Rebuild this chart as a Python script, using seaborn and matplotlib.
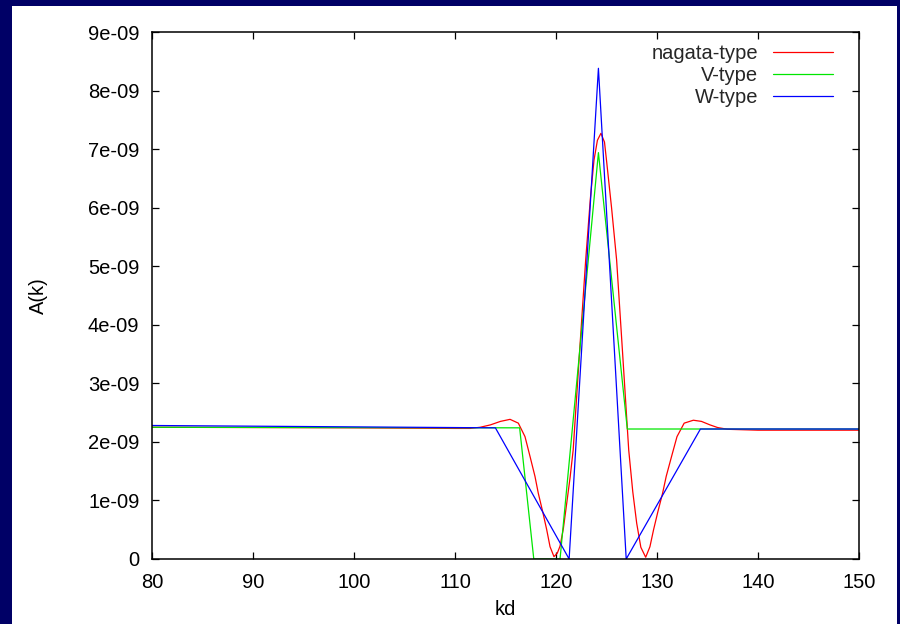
import matplotlib
matplotlib.use("Agg")
import matplotlib.pyplot as plt
import seaborn as sns
import pandas as pd
from matplotlib.patches import Rectangle
from matplotlib.lines import Line2D

# ---- data (units of 1e-9 for A(k)) ----
series_names = ["nagata-type", "V-type", "W-type"]

nagata_x = [80, 100, 110, 111.5, 112.5, 113.5, 114.5, 115.45, 116.27, 116.93, 117.43,
            117.92, 118.25, 118.68, 119.08, 119.41, 119.8, 120.13, 120.4, 120.73,
            121.06, 121.4, 121.7, 122.3, 122.94, 123.4, 123.76, 124.1, 124.45,
            124.8, 125.0, 125.5, 126.0, 126.6, 127.2, 127.6, 127.99, 128.4, 128.88,
            129.3, 129.66, 130.09, 130.55, 130.91, 131.44, 131.98, 132.69, 133.6,
            134.4, 135.25, 136.0, 137.0, 140.0, 150.0]
nagata_y = [2.25, 2.24, 2.23, 2.23, 2.25, 2.29, 2.35, 2.385, 2.32, 2.09, 1.75,
            1.41, 1.12, 0.81, 0.50, 0.21, 0.04, 0.10, 0.22, 0.52,
            0.95, 1.40, 1.86, 3.45, 5.11, 6.15, 6.81, 7.15, 7.27,
            7.12, 6.81, 6.0, 5.11, 3.5, 1.86, 1.15, 0.61, 0.20, 0.03,
            0.21, 0.50, 0.81, 1.12, 1.41, 1.75, 2.09, 2.32, 2.37,
            2.35, 2.29, 2.245, 2.215, 2.20, 2.20]

vtype_x = [80, 116.4, 117.8, 120.4, 124.2, 127.06, 150]
vtype_y = [2.25, 2.24, 0.0, 0.0, 6.94, 2.22, 2.22]

wtype_x = [80, 114.0, 121.3, 124.2, 126.95, 134.3, 150]
wtype_y = [2.28, 2.24, 0.0, 8.38, 0.0, 2.22, 2.22]

xticks = [80, 90, 100, 110, 120, 130, 140, 150]
yticks = [0, 1, 2, 3, 4, 5, 6, 7, 8, 9]
ytick_labels = ["0", "1e-09", "2e-09", "3e-09", "4e-09", "5e-09",
                "6e-09", "7e-09", "8e-09", "9e-09"]
colors = ["#ff0000", "#00e600", "#0000ff"]

frames = []
for name, xs, ys in zip(series_names, [nagata_x, vtype_x, wtype_x],
                        [nagata_y, vtype_y, wtype_y]):
    frames.append(pd.DataFrame({"kd": xs, "A": [v * 1e-9 for v in ys], "series": name}))
df = pd.concat(frames, ignore_index=True)

# ---- style ----
sns.set_theme(style="white")
plt.rcParams["font.family"] = ["Liberation Sans", "DejaVu Sans"]
plt.rcParams["axes.linewidth"] = 1.1

fig = plt.figure(figsize=(9, 6.24), dpi=100)
fig.patch.set_facecolor("#000066")
fig.add_artist(Rectangle((12 / 900, 0), (897 - 12) / 900, 1 - 6 / 624,
                         transform=fig.transFigure, facecolor="white",
                         edgecolor="none", zorder=-10))

ax = fig.add_axes([152 / 900, 1 - 559 / 624, (859 - 152) / 900, (559 - 32) / 624])
ax.set_facecolor("white")

sns.lineplot(data=df, x="kd", y="A", hue="series", hue_order=series_names,
             palette=colors, linewidth=0.9, errorbar=None, sort=True,
             estimator=None, ax=ax, legend=False)

ax.set_xlim(80, 150)
ax.set_ylim(0, 9e-9)
ax.set_xticks(xticks)
ax.set_xticklabels([str(t) for t in xticks])
ax.set_yticks([t * 1e-9 for t in yticks])
ax.set_yticklabels(ytick_labels)

for s in ax.spines.values():
    s.set_visible(True)
    s.set_color("black")
    s.set_linewidth(1.1)

ax.tick_params(axis="both", which="major", direction="in", length=5, width=0.9,
               colors="black", labelsize=14.5, top=True, right=True,
               bottom=True, left=True, labelcolor="black")
ax.tick_params(axis="x", pad=10)
ax.tick_params(axis="y", pad=9)

ax.set_xlabel("kd", fontsize=14.5, color="black", labelpad=6)
ax.set_ylabel("A(k)", fontsize=14.5, color="black", labelpad=29)

handles = [Line2D([0], [0], color=c, linewidth=0.9) for c in colors]
ax.legend(handles, series_names, loc="upper right",
          bbox_to_anchor=((833 - 152) / 707, (559 - 44) / 527),
          frameon=False, markerfirst=False, fontsize=14.5,
          handlelength=3.0, handletextpad=0.7, labelspacing=0.14,
          borderpad=0, borderaxespad=0)

fig.savefig("out.png", dpi=100, facecolor=fig.get_facecolor())
